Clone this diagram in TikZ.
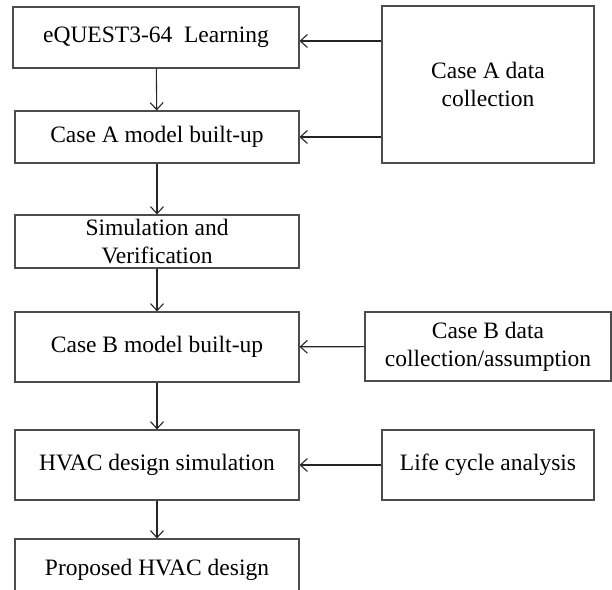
\documentclass[tikz,border=0pt]{standalone}
\usepackage{fontspec}
\setmainfont{Liberation Serif}
\usetikzlibrary{arrows.meta}

\begin{document}
\begin{tikzpicture}[x=1pt,y=-1pt]
\tikzstyle{every node}+=[inner sep=0pt]
\tikzstyle{box}=[draw=black!70, line width=1.2pt, align=center, font=\fontsize{23.5}{28}\selectfont]
\tikzstyle{link}=[black!85, line width=1.1pt, -{Straight Barb[length=7pt,width=13pt,line width=1.1pt]}]
\useasboundingbox (0,0) rectangle (612,589);
\node [box, minimum width=286pt, minimum height=61pt] (learn) at (156,37.5) {eQUEST3-64\ \ Learning};
\node [box, minimum width=284pt, minimum height=52pt] (modelA) at (157,137) {Case A model built-up};
\node [box, minimum width=284pt, minimum height=53pt] (verify) at (157,241.5) {Simulation and\\Verification};
\node [box, minimum width=284pt, minimum height=70pt] (modelB) at (157,347) {Case B model built-up};
\node [box, minimum width=284pt, minimum height=70pt] (hvac) at (157,465) {HVAC design simulation};
\node [box, minimum width=284pt, minimum height=61pt] (design) at (157,569.5) {Proposed HVAC design};
\node [box, minimum width=212pt, minimum height=157pt] (dataA) at (488,84.5) {Case A data\\collection};
\node [box, minimum width=246pt, minimum height=69pt] (dataB) at (488,346.5) {Case B data\\collection/assumption};
\node [box, minimum width=212pt, minimum height=70pt] (cycle) at (488,465) {Life cycle analysis};
\draw [link] (learn) -- (modelA);
\draw [link] (modelA) -- (verify);
\draw [link] (verify) -- (modelB);
\draw [link] (modelB) -- (hvac);
\draw [link] (hvac) -- (design);
\draw [link] ([yshift=-3.5pt]dataA.west |- learn) -- ([yshift=-3.5pt]learn.east);
\draw [link] (dataA.west |- modelA) -- (modelA);
\draw [link] (dataB) -- (modelB);
\draw [link] (cycle) -- (hvac);
\end{tikzpicture}
\end{document}
